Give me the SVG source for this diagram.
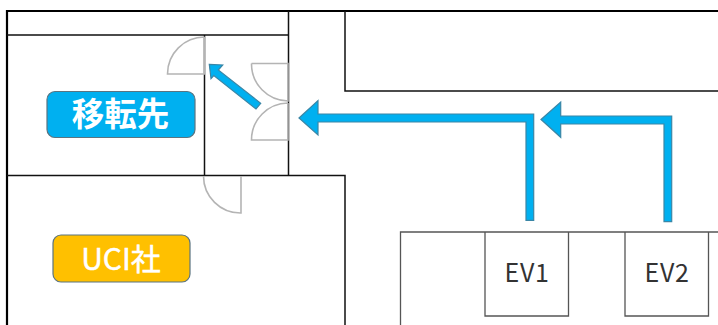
<svg xmlns="http://www.w3.org/2000/svg" width="718" height="325" viewBox="0 0 718 325">
<style>
.w{fill:none;stroke:#111;stroke-width:1.5}
.o{fill:none;stroke:#000;stroke-width:2.2}
.g{fill:none;stroke:#555;stroke-width:1.3}
.d{fill:none;stroke:#b4b4b4;stroke-width:1.6}
.a{fill:#00b0f0;stroke:#3a86a6;stroke-width:1.2}
.l{stroke:#5b7480;stroke-width:1.2}
.t{font-family:"Noto Sans CJK JP","Noto Sans",sans-serif;fill:#fff;text-anchor:middle}
.e{font-family:"Noto Sans CJK JP","Noto Sans",sans-serif;fill:#333;text-anchor:middle;font-size:25px;letter-spacing:.6px}
</style>
<rect width="718" height="325" fill="#fff"/>
<g id="walls">
<path class="o" d="M718 11H7V325"/>
<path class="w" d="M7 35H289M204.500 35V176M288.500 11V176M7 175.500H345V325M345 11V91H718"/>
<path class="g" d="M400.500 325V232H718M485 232V316H568.500V232M625 232V316H708.500V232"/>
</g>
<g id="doors">
<path class="d" d="M204.500 37A37 37 0 0 0 167.500 74H204.500V37"/>
<path class="d" d="M251.500 63.500H288V101A37 37 0 0 1 251.500 63.500"/>
<path class="d" d="M288 103A37 37 0 0 0 251.500 140H288V103"/>
<path class="d" d="M203.500 176A37 37 0 0 0 241 213V176"/>
</g>
<g id="connectors">
<polygon class="a" points="209.300,64.300 222.700,65 218.300,70 260.700,103.300 256,109 213.800,75.500 211,78.700"/>
<polygon class="a" points="299,118 318,100.500 318,114 533.700,114 533.700,220.300 526,220.300 526,122 318,122 318,135"/>
<polygon class="a" points="541,119.500 560.700,102 560.700,116 671.700,116 671.700,221.700 664,221.700 664,124 560.700,124 560.700,137.300"/>
</g>
<g id="node-moving">
<rect class="l" x="47" y="91.500" width="148" height="46" rx="8" fill="#00b0f0"/>
<text class="t" x="120.500" y="126" font-size="32.500" font-weight="700">移転先</text>
</g>
<g id="node-uci">
<rect class="l" x="53" y="235" width="137" height="47" rx="8" fill="#ffc000"/>
<text class="t" x="121" y="270" font-size="30" stroke="#fff" stroke-width=".5">UCI社</text>
</g>
<g id="node-ev1"><text class="e" x="527" y="282">EV1</text></g>
<g id="node-ev2"><text class="e" x="667" y="282">EV2</text></g>
</svg>
